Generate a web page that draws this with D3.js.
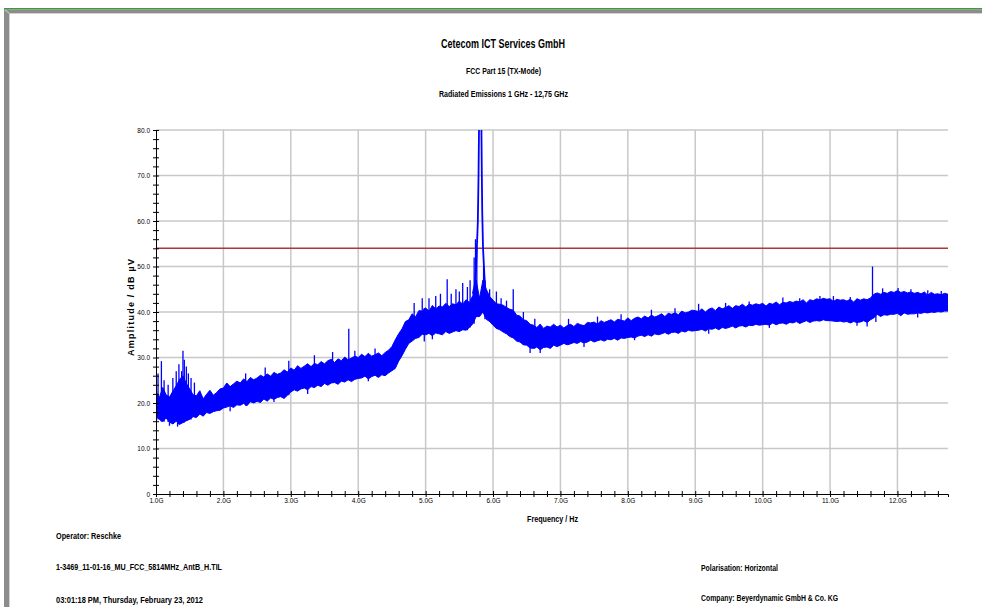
<!DOCTYPE html>
<html><head><meta charset="utf-8">
<script src="https://cdn.jsdelivr.net/npm/d3@7"></script>
<style>body{margin:0;background:#fff;} svg{display:block;}</style>
</head><body><svg id="c" width="982" height="607"></svg>
<script>
// ---------- data ----------
const titleText = "Cetecom ICT Services GmbH";
const subtitle1 = "FCC Part 15 (TX-Mode)";
const subtitle2 = "Radiated Emissions 1 GHz - 12,75 GHz";
const yLabel = "Amplitude / dB µV";
const xLabel = "Frequency / Hz";
const footLeft = ["Operator: Reschke", "1-3469_11-01-16_MU_FCC_5814MHz_AntB_H.TIL", "03:01:18 PM, Thursday, February 23, 2012"];
const footRight = ["Polarisation: Horizontal", "Company: Beyerdynamic GmbH & Co. KG"];

const yMajor = [0, 10, 20, 30, 40, 50, 60, 70, 80];
const xMajor = [1, 2, 3, 4, 5, 6, 7, 8, 9, 10, 11, 12];
const limitValue = 54;

// trace envelope sampled every 0.05 GHz from 1.00 GHz to 12.75 GHz (dBµV)
const fStart = 1.0, fStep = 0.05;
const traceHi = [
 22.5,21.2,23.4,21.8,21.3,22.6,23.8,25.2,26,24.3,23.1,21.8,21.6,22.7,20.9,21.9,22.8,21.7,22.3,23.1,
 23.3,24.4,23.6,24.2,24.8,24.4,25.3,24.7,25.6,25.1,25.5,26.1,25.7,26.4,25.9,26.7,26.3,26.6,27.3,26.8,
 27.7,27.2,28.2,27.6,28.1,28.6,28.0,28.7,28.4,29.1,28.6,29.3,29.6,28.9,29.7,29.3,30.1,29.5,29.9,30.3,
 30.0,30.7,30.2,30.9,30.3,30.6,31.0,30.4,31.1,31.6,32.4,33.9,35.2,36.3,37.9,38.3,39.6,38.9,40.3,40.2,
 40.9,40.2,41.4,40.7,41.3,41.1,41.9,41.2,41.8,41.6,42.4,41.7,42.7,42.1,43.6,47,43,47,45,43.4,
 42.6,41.8,41.7,41.5,41.0,40.6,40.4,39.3,39.1,38.3,38.1,37.3,37.1,36.6,37.3,36.4,36.9,36.7,37.3,36.7,
 37.1,36.5,37.0,37.3,36.8,37.5,37.2,37.0,37.7,37.6,37.8,37.3,38.1,37.7,38.0,38.3,37.8,38.4,38.2,38.0,
 38.7,38.1,38.6,38.9,38.5,39.1,38.7,39.3,38.9,39.2,39.6,39.0,39.7,39.5,39.8,39.4,40.2,39.8,40.0,40.4,
 40.3,40.1,40.7,40.0,40.6,40.9,40.3,41.1,40.7,41.0,41.4,40.8,41.4,41.2,41.7,41.1,41.7,41.5,41.8,41.6,
 41.9,41.3,41.9,41.7,42.2,41.6,42.1,42.0,42.3,42.1,42.4,42.2,42.7,42.0,42.7,42.5,42.9,42.7,43.0,42.8,
 42.9,42.3,42.8,42.6,42.7,42.4,42.8,42.2,42.9,42.6,42.9,42.7,43.1,43.9,44.2,43.9,44.3,44.1,44.5,44.3,
 44.7,44.3,44.5,44.2,44.4,44.1,44.3,44.0,44.4,43.7,44.3,43.9,44.0,43.8,44.1,43.9
];
const traceLo = [
 17.2,16.4,15.9,16.7,15.8,15.4,16,15.3,15.7,16.1,16.4,17,16.8,17.6,17.1,17.9,17.7,18.1,18.3,18.4,
 18.9,19.1,19.4,19.0,19.6,19.5,19.9,19.4,20.3,20.0,20.4,20.1,20.9,20.4,21.1,20.8,21.2,21.4,21.0,21.7,
 22.4,22.9,22.6,23.1,23.3,22.9,23.6,23.4,23.9,23.6,24.3,23.9,24.4,24.5,24.1,24.8,24.6,25.1,24.7,25.2,
 25.4,25.5,25.9,25.3,25.8,26.1,25.6,26.2,26.0,26.6,27.1,27.6,29.2,30.4,31.8,33.1,33.6,34.2,34.4,35.1,
 35.0,35.3,34.8,35.4,35.2,35.0,35.7,35.3,35.6,35.9,35.7,36.1,36.0,36.6,37.4,39,39,40,38.4,37.9,
 37.1,36.4,36.1,35.6,35.2,34.6,34.3,33.6,33.4,32.8,32.7,32.1,32.0,32.3,31.7,32.2,32.3,32.0,32.7,32.4,
 32.7,33.1,32.8,33.0,33.3,33.1,33.5,33.2,33.4,33.8,33.4,33.7,33.9,33.6,34.0,33.9,34.2,33.8,34.3,34.2,
 34.4,34.5,34.3,34.7,34.9,34.6,35.0,34.7,35.2,35.0,35.2,35.5,35.1,35.5,35.6,35.3,35.8,35.6,36.0,35.8,
 35.9,36.0,36.2,35.8,36.3,36.2,36.5,36.1,36.6,36.4,36.6,36.9,36.5,36.9,37.0,36.7,37.1,37.0,37.3,37.1,
 37.2,37.3,37.1,37.6,37.2,37.5,37.6,37.3,37.7,37.6,37.9,37.5,37.8,38.1,37.7,38.0,38.1,38.0,38.3,38.1,
 38.1,38.0,37.9,38.0,37.8,37.9,37.6,37.9,37.7,37.8,38.1,37.7,38.3,38.7,39.5,39.0,39.4,39.3,39.5,39.5,
 39.7,39.2,39.8,39.5,39.6,39.6,39.8,39.7,39.9,39.8,40.0,39.9,40.1,40.0,40.2,40.2
];
// narrow upward spikes: frequency (GHz) and peak level (dBµV)
const spikeF = [1.03,1.08,1.12,1.18,1.25,1.30,1.34,1.38,1.40,1.42,1.45,1.48,1.52,1.57,
  2.33,2.62,2.97,3.35,3.62,3.86,3.95,4.25,4.83,4.95,5.05,5.15,5.22,5.32,5.38,5.45,5.50,5.55,5.62,5.66,
  5.72,5.74,5.76,5.86,5.88,5.95,6.05,6.12,6.20,6.30,6.45,6.62,7.12,7.55,7.90,8.35,8.70,9.05,9.45,9.80,
  10.30,10.55,10.85,11.05,11.30,11.63,11.78,12.01,12.20,12.45,12.65];
const spikeA = [26.5,29.2,25,24,25.5,27,28.5,27,31.5,29.5,28,26.5,25.5,24.5,
  26.5,27.8,29.3,30.5,31.2,36.3,31.5,32,42,43,43,43.5,44,47.2,44,45,44.5,46.4,45.5,47,
  52,56,54,50,47,45,44.5,43,42.5,45,40,38.5,38.5,39,39.5,40.5,40.8,41.8,42,42.3,
  43.2,43,43.5,43.5,43.3,50,45.2,45.3,45,44.8,44.6];
// narrow downward dips: frequency (GHz) and lowest level (dBµV)
const dipF = [1.20,1.32,2.10,2.75,3.25,4.15,4.98,5.10,6.55,6.70,7.35,8.10,9.20,10.10,11.40,11.55,11.68,12.30];
const dipA = [15,14.8,18.2,20.2,22,24.8,33.5,34,31,31,32.3,33.8,35.2,36.5,37,36.8,37.8,38.8];
// carrier peak outline
const peakF = [5.70,5.73,5.745,5.76,5.775,5.785,5.792,5.797,5.822,5.828,5.834,5.84,5.852,5.872,5.89];
const peakA = [44,46,49,54,60,70,80,86,86,80,70,62,54,48,44];

// ---------- drawing ----------
const svg = d3.select("#c");
const x = d3.scaleLinear().domain([1.0, 12.75]).range([156, 948]);
const y = d3.scaleLinear().domain([0, 80]).range([494, 130]);
const narrow = "'Liberation Sans Narrow','Arial Narrow','Liberation Sans',Arial,sans-serif";

// page frame
svg.append("rect").attr("x",4).attr("y",8).attr("width",978).attr("height",1.6).attr("fill","#3c9a3c");
svg.append("rect").attr("x",4).attr("y",9.6).attr("width",978).attr("height",3.8).attr("fill","#8c8c8c");
svg.append("rect").attr("x",4).attr("y",9.6).attr("width",5.4).attr("height",600).attr("fill","#8c8c8c");
svg.append("line").attr("x1",5).attr("y1",10).attr("x2",9.4).attr("y2",13.4).attr("stroke","#d8d8d8").attr("stroke-width",1);

function txt(t, xx, yy, size, weight, anchor, len){
  const e = svg.append("text").attr("x",xx).attr("y",yy).attr("font-family",narrow)
    .attr("font-size",size).attr("font-weight",weight).attr("text-anchor",anchor).attr("fill","#000").text(t);
  if(len){ e.attr("textLength",len).attr("lengthAdjust","spacingAndGlyphs"); }
  return e;
}
txt(titleText, 503, 48.3, 13.5, "bold", "middle", 124);
txt(subtitle1, 503.5, 73.5, 9, "bold", "middle", 75);
txt(subtitle2, 503.5, 96.8, 9, "bold", "middle", 129);

// grid
const grid = svg.append("g");
grid.selectAll("line.h").data(yMajor.filter(d=>d>0)).join("line")
  .attr("x1",x(1.0)).attr("x2",x(12.75)).attr("y1",d=>y(d)).attr("y2",d=>y(d))
  .attr("stroke","#c8c8c8").attr("stroke-width",1.5);
grid.selectAll("line.v").data(xMajor.filter(d=>d>1)).join("line")
  .attr("y1",y(0)).attr("y2",y(80)).attr("x1",d=>x(d)).attr("x2",d=>x(d))
  .attr("stroke","#c8c8c8").attr("stroke-width",1.5);

// limit line
svg.append("line").attr("x1",x(1.0)).attr("x2",x(12.75)).attr("y1",y(limitValue)).attr("y2",y(limitValue))
  .attr("stroke","#a83a3a").attr("stroke-width",1.5);

// clip
svg.append("clipPath").attr("id","pc").append("rect")
  .attr("x",x(1.0)).attr("y",y(80)).attr("width",x(12.75)-x(1.0)).attr("height",y(0)-y(80));
const plot = svg.append("g").attr("clip-path","url(#pc)");

const pts = traceHi.map((h,i)=>({f: fStart + i*fStep, hi: h, lo: traceLo[i]}));
const area = d3.area().x(d=>x(d.f)).y0(d=>y(d.lo)).y1(d=>y(d.hi));
plot.append("path").datum(pts).attr("d",area).attr("fill","#0000ff").attr("stroke","#0000ff").attr("stroke-width",1);

const idx = f => Math.max(0, Math.min(traceHi.length-1, Math.round((f - fStart)/fStep)));
plot.selectAll("line.sp").data(spikeF.map((f,i)=>({f, a: spikeA[i]}))).join("line")
  .attr("x1",d=>x(d.f)).attr("x2",d=>x(d.f)).attr("y1",d=>y(d.a))
  .attr("y2",d=>y(traceLo[idx(d.f)]))
  .attr("stroke","#0000ff").attr("stroke-width",1.3);
plot.selectAll("line.dp").data(dipF.map((f,i)=>({f, a: dipA[i]}))).join("line")
  .attr("x1",d=>x(d.f)).attr("x2",d=>x(d.f)).attr("y1",d=>y(d.a))
  .attr("y2",d=>y(traceHi[idx(d.f)]))
  .attr("stroke","#0000ff").attr("stroke-width",1.3);

const peakLine = d3.line().x(d=>x(d[0])).y(d=>y(d[1]));
plot.append("path").datum(peakF.map((f,i)=>[f,peakA[i]])).attr("d",peakLine)
  .attr("fill","none").attr("stroke","#0000ff").attr("stroke-width",1.8);

// axes
const yAxis = d3.axisLeft(y).tickValues(d3.range(0,81,2)).tickSizeOuter(0).tickSize(3).tickPadding(3)
  .tickFormat(d => d%10===0 ? (d===0 ? "0" : d.toFixed(1)) : "");
const gy = svg.append("g").attr("transform",`translate(${x(1.0)},0)`).call(yAxis);
gy.selectAll(".tick line").attr("x1",3).attr("x2",-3).attr("stroke","#000");
gy.selectAll(".tick text").attr("font-family",narrow).attr("font-size",6.5).attr("fill","#000");
gy.select(".domain").attr("stroke","#000");

const xAxis = d3.axisBottom(x).tickValues(d3.range(10,128,2).map(v=>v/10)).tickSizeOuter(0).tickSize(3).tickPadding(3)
  .tickFormat(d => Math.abs(d - Math.round(d)) < 1e-6 ? d.toFixed(1) + "G" : "");
const gx = svg.append("g").attr("transform",`translate(0,${y(0)})`).call(xAxis);
gx.selectAll(".tick line").attr("y1",-3).attr("y2",3).attr("stroke","#000");
gx.selectAll(".tick text").attr("font-family",narrow).attr("font-size",6.5).attr("fill","#000").attr("dy",0).attr("y",9);
gx.select(".domain").attr("stroke","#000");

// axis titles
txt(xLabel, 552.5, 521.5, 9, "bold", "middle", 51);
svg.append("text").attr("transform","translate(134,307) rotate(-90)").attr("text-anchor","middle")
  .attr("font-family",narrow).attr("font-size",9).attr("font-weight","bold").attr("fill","#000")
  .attr("textLength",98).attr("lengthAdjust","spacing").attr("letter-spacing",1).text(yLabel);

// footer
const flx = 56, fly = [539, 570, 603], flw = [65, 166, 147];
footLeft.forEach((t,i)=>txt(t, flx, fly[i], 8.5, "bold", "start", flw[i]));
const frx = 701, fry = [571, 601], frw = [77, 137];
footRight.forEach((t,i)=>txt(t, frx, fry[i], 8.5, "bold", "start", frw[i]));
</script></body></html>
